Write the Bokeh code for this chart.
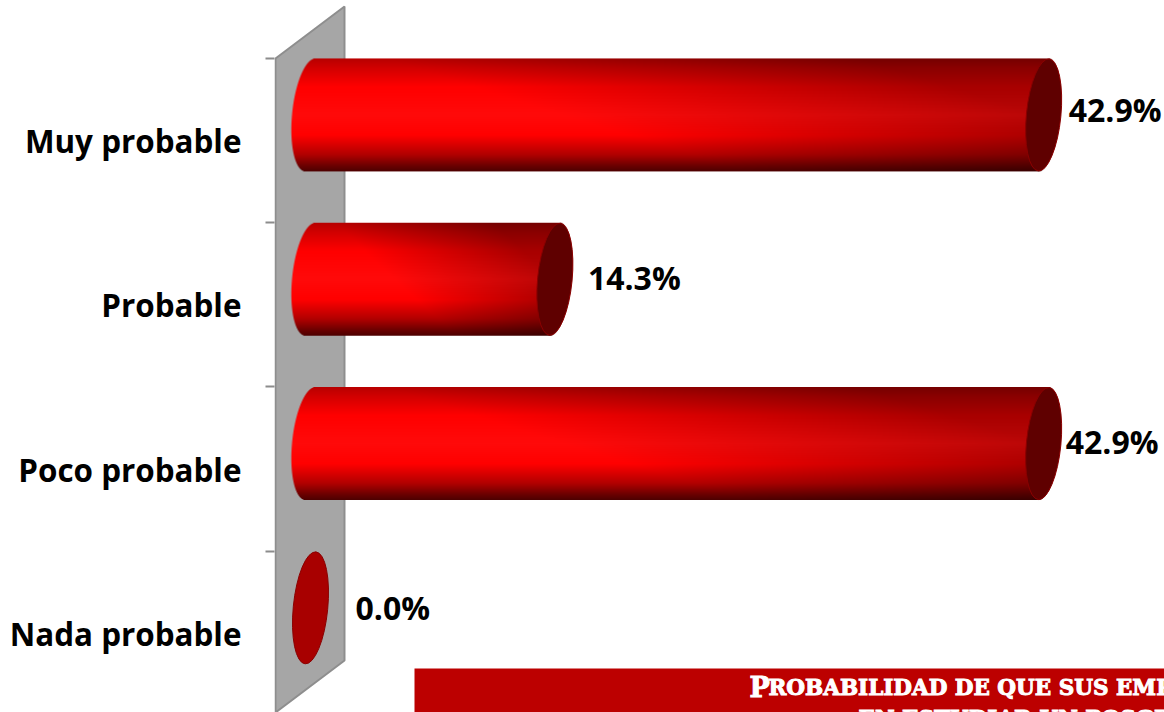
import numpy as np
from bokeh.embed import file_html
from bokeh.models import ColumnDataSource, FixedTicker, GlobalInlineStyleSheet, LinearAxis, Range1d
from bokeh.plotting import figure
from bokeh.resources import INLINE
from bokeh.core.properties import value

categories = ["Muy probable", "Probable", "Poco probable", "Nada probable"]
values = [42.9, 14.3, 42.9, 0.0]
value_labels = ["42.9%", "14.3%", "42.9%", "0.0%"]
title_first = "P"
title_rest = "ROBABILIDAD DE QUE SUS EMP"
title_second = "EN ESTUDIAR UN POSGRADO"

W, H = 1164, 712
PX_PER_UNIT = 17.09      # px per percentage point
PX_PER_CAT = 164.3       # px per category
X_ZERO_PX, Y_ZERO_PX, FRAME_LEFT = 310.0, 715.0, 274
def dx(px): return (px - X_ZERO_PX) / PX_PER_UNIT
def dy(py): return (Y_ZERO_PX - py) / PX_PER_CAT

p = figure(width=W, height=H, output_backend="svg", toolbar_location=None,
           x_range=Range1d(dx(FRAME_LEFT), dx(W)), y_range=Range1d(dy(H), dy(0)),
           x_axis_location=None, y_axis_location=None,
           min_border_left=FRAME_LEFT, min_border_right=0, min_border_top=0, min_border_bottom=0)
p.grid.visible = False
p.outline_line_color = None
p.stylesheets = [GlobalInlineStyleSheet(css="html,body{margin:0;padding:0;overflow:hidden}")]

n = len(categories)
centers = [n - i - 0.5 for i in range(n)]
boundaries = [float(i) for i in range(1, n + 1)]

axis = LinearAxis(ticker=FixedTicker(ticks=centers, minor_ticks=boundaries),
                  major_label_overrides=dict(zip(centers, categories)))
axis.axis_line_color = None
axis.major_tick_line_color = None
axis.major_tick_in = axis.major_tick_out = 0
axis.minor_tick_line_color = "#8C8C8C"
axis.minor_tick_line_width = 2
axis.minor_tick_in = 0
axis.minor_tick_out = 9
axis.major_label_standoff = 24
axis.major_label_text_font = "Open Sans"
axis.major_label_text_font_style = "bold"
axis.major_label_text_font_size = "31.4px"
axis.major_label_text_color = "#000000"
p.add_layout(axis, "left")

# back wall, a parallelogram leaning into the picture
p.patch([dx(275), dx(344), dx(344), dx(275)], [dy(58), dy(6), dy(660), dy(712)],
        fill_color="#A6A6A6", line_color="#8E8E8E", line_width=2)

# cylinders
BAR_RISE = 25.5 / PX_PER_CAT
A_LEFT, A_RIGHT, SHEAR_PX = 18.5, 16.5, 5.0
HALF_H = 56.5
PAD = 24
stops_v = [0.0, 0.08, 0.25, 0.5, 0.68, 0.85, 0.95, 1.0]
left_r = [0.72, 0.82, 1.0, 1.0, 1.0, 0.70, 0.42, 0.30]
left_g = [0, 0, 0, 0.04, 0, 0, 0, 0]
right_r = [0.46, 0.54, 0.66, 0.73, 0.62, 0.42, 0.25, 0.17]
right_g = [0, 0, 0, 0.03, 0, 0, 0, 0]

def cylinder_image(val):
    length = val * PX_PER_UNIT
    w = int(round(length + 2 * PAD))
    h = int(2 * HALF_H + 2)
    px = np.arange(w) + 0.5 - PAD
    py = (np.arange(h) + 0.5 - h / 2) / HALF_H   # -1 bottom, +1 top, row 0 = bottom
    X, V = np.meshgrid(px, py)
    inside = np.clip(1 - V ** 2, 0, None)
    lo = SHEAR_PX * V - A_LEFT * np.sqrt(inside)
    hi = length + SHEAR_PX * V + A_RIGHT * np.sqrt(inside)
    alpha = np.clip(X - lo + 0.5, 0, 1) * np.clip(hi - X + 0.5, 0, 1) * np.clip((HALF_H - np.abs(V) * HALF_H) + 0.5, 0, 1)
    depth = 0.5 - V / 2
    U = np.clip((X / max(length, 1) - 0.35 + V * 0.25) / 0.65, 0, 1)
    lr = np.interp(depth, stops_v, left_r); rr = np.interp(depth, stops_v, right_r)
    lg = np.interp(depth, stops_v, left_g); rg = np.interp(depth, stops_v, right_g)
    r = lr + (rr - lr) * U
    g = lg + (rg - lg) * U
    img = np.zeros((h, w), dtype=np.uint32)
    view = img.view(dtype=np.uint8).reshape((h, w, 4))
    view[..., 0] = np.uint8(np.clip(r, 0, 1) * 255)
    view[..., 1] = np.uint8(np.clip(g, 0, 1) * 255)
    view[..., 2] = np.uint8(np.clip(g, 0, 1) * 255)
    view[..., 3] = np.uint8(alpha * 255)
    return img, w, h

bar_y = [c + BAR_RISE for c in centers]
for val, yc in zip(values, bar_y):
    if val > 0:
        img, w, h = cylinder_image(val)
        p.image_rgba(image=[img], x=-PAD / PX_PER_UNIT,
                     y=yc - h / 2 / PX_PER_CAT, dw=w / PX_PER_UNIT, dh=h / PX_PER_CAT)

cap_colors = ["#5F0000" if v > 0 else "#A80000" for v in values]
caps = ColumnDataSource(dict(x=values, y=bar_y, c=cap_colors))
p.ellipse(x="x", y="y", width=34.5, height=112.5, angle=-0.097, source=caps,
          width_units="screen", height_units="screen",
          fill_color="c", line_color="#8A0000", line_width=1)

# value labels
label_src = ColumnDataSource(dict(x=values, y=bar_y, t=value_labels,
                                  xo=[25, 33, 22, 45], yo=[-5, -2, -2, 0]))
p.text(x="x", y="y", text="t", source=label_src, x_offset="xo", y_offset="yo",
       text_font=value("Open Sans"), text_font_style="bold", text_font_size="32px",
       text_color="#000000", text_align="left", text_baseline="middle")

# title banner, cut off by the page edge as in the source
p.quad(left=[dx(414)], right=[dx(W + 5)], top=[dy(668)], bottom=[dy(H + 5)],
       fill_color="#BC0000", line_color=None)
SERIF = value("DejaVu Serif")
title_style = dict(text_font=SERIF, text_font_style="bold", text_color="#FFFFFF",
                   text_outline_color="#FFFFFF", text_baseline="alphabetic")
p.text(x=[dx(749)], y=[dy(687)], text=[title_first], text_font_size="27px", **title_style)
p.text(x=[dx(768)], y=[dy(687)], text=[title_rest], text_font_size="21.5px", **title_style)
p.text(x=[dx(858)], y=[dy(711)], y_offset=7, text=[title_second], text_font_size="21.5px", **title_style)

open("out.html", "w").write(file_html(p, INLINE))
